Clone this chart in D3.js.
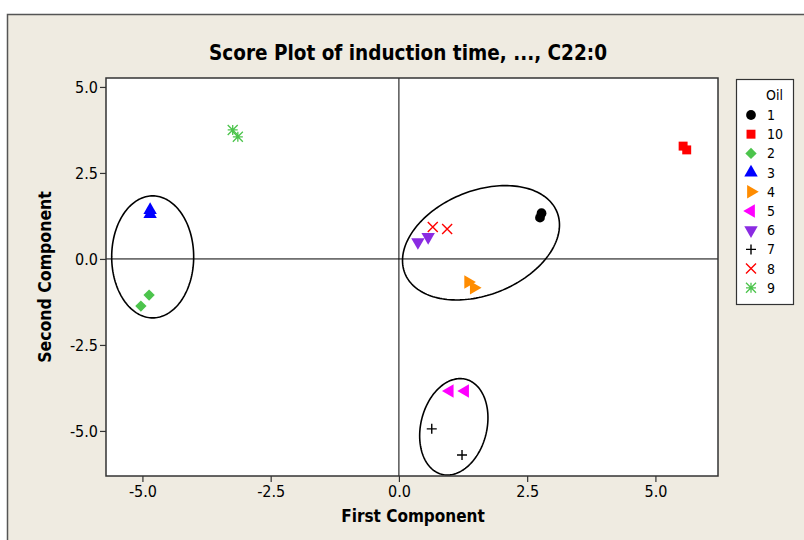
<!DOCTYPE html>
<html>
<head>
<meta charset="utf-8">
<script src="https://cdn.jsdelivr.net/npm/d3@7"></script>
<style>
  body { margin: 0; background: #fff; }
  svg { display: block; font-family: "DejaVu Sans Condensed", "DejaVu Sans", sans-serif; }
</style>
</head>
<body>
<svg id="chart" width="804" height="540"></svg>
<script>
// oil groups in legend order
var oils = ['1', '10', '2', '3', '4', '5', '6', '7', '8', '9']
var colors = ['#000000', '#ff0000', '#4cc44c', '#0000ff', '#ff8c00', '#ff00ff', '#8a2be2', '#000000', '#ff0000', '#4cc44c']
var shapes = ['circle', 'square', 'diamond', 'up', 'right', 'left', 'down', 'plus', 'cross', 'star']

// scores, two samples per oil
var firstComp  = [2.75, 2.78, 5.54, 5.61, -4.87, -5.03, -4.85, -4.85, 1.35, 1.46, 0.99, 1.29, 0.37, 0.57, 0.64, 1.23, 0.66, 0.94, -3.24, -3.14]
var secondComp = [1.20, 1.33, 3.28, 3.17, -1.05, -1.37, 1.42, 1.30, -0.67, -0.84, -3.84, -3.84, 0.49, 0.64, -4.94, -5.70, 0.93, 0.87, 3.75, 3.55]
var oilOf      = ['1', '1', '10', '10', '2', '2', '3', '3', '4', '4', '5', '5', '6', '6', '7', '7', '8', '8', '9', '9']

var xTicks = [-5, -2.5, 0, 2.5, 5]
var yTicks = [5, 2.5, 0, -2.5, -5]

// grouping ellipses: centre in data units
var ellCx = [-4.80, 1.60, 1.07]
var ellCy = [0.06, 0.47, -4.88]

var svg = d3.select('#chart')
var W = 804, H = 540
var margin = {left: 106, right: 86, top: 78, bottom: 64}

// beige frame
svg.append('rect')
    .attr('x', 7.5).attr('y', 14.5)
    .attr('width', W).attr('height', H)
    .attr('fill', '#efebe1')
    .attr('stroke', '#555')
    .attr('stroke-width', 1.5)

var x = d3.scaleLinear().domain([-5.71, 6.22]).range([margin.left, W - margin.right])
var y = d3.scaleLinear().domain([-6.31, 5.26]).range([H - margin.bottom, margin.top])

svg.append('rect')
    .attr('x', margin.left).attr('y', margin.top)
    .attr('width', W - margin.right - margin.left)
    .attr('height', H - margin.bottom - margin.top)
    .attr('fill', '#fff')

// reference lines
svg.append('line')
    .attr('x1', x(0)).attr('x2', x(0))
    .attr('y1', margin.top).attr('y2', H - margin.bottom)
    .attr('stroke', '#000').attr('stroke-width', 1)
svg.append('line')
    .attr('x1', margin.left).attr('x2', W - margin.right)
    .attr('y1', y(0)).attr('y2', y(0))
    .attr('stroke', '#000').attr('stroke-width', 1)

// ellipses: semi-axes a,b in px and tilt in degrees
var ellA = [41, 82, 33], ellB = [61, 52, 49], ellRot = [0, -22, 14]
var ellLine = d3.line().curve(d3.curveLinearClosed)
ellCx.forEach(function(cx, i) {
  var pts = d3.range(0, 2 * Math.PI, Math.PI / 90).map(function(t) {
    var r = ellRot[i] * Math.PI / 180
    var px = ellA[i] * Math.cos(t), py = ellB[i] * Math.sin(t)
    return [x(cx) + px * Math.cos(r) - py * Math.sin(r), y(ellCy[i]) + px * Math.sin(r) + py * Math.cos(r)]
  })
  svg.append('path')
      .attr('d', ellLine(pts))
      .attr('fill', 'none')
      .attr('stroke', '#000')
      .attr('stroke-width', 1.6)
})

function marker(g, shape, color) {
  var s = 5
  if (shape == 'circle') g.append('path').attr('d', d3.symbol(d3.symbolCircle, 75)()).attr('fill', color)
  else if (shape == 'square') g.append('path').attr('d', d3.symbol(d3.symbolSquare, 80)()).attr('fill', color)
  else if (shape == 'diamond') g.append('path').attr('d', d3.symbol(d3.symbolSquare, 64)()).attr('transform', 'rotate(45)').attr('fill', color)
  else if (['up', 'right', 'down', 'left'].indexOf(shape) >= 0) {
    var rot = {up: 0, right: 90, down: 180, left: 270}[shape]
    g.append('path').attr('d', d3.symbol(d3.symbolTriangle, 78)()).attr('transform', 'rotate(' + rot + ')').attr('fill', color)
  }
  else if (shape == 'plus') g.append('path').attr('d', `M${-s},0H${s}M0,${-s}V${s}`).attr('stroke', color).attr('stroke-width', 1.4)
  else if (shape == 'cross') g.append('path').attr('d', `M${-s},${-s}L${s},${s}M${-s},${s}L${s},${-s}`).attr('stroke', color).attr('stroke-width', 1.4)
  else if (shape == 'star') g.append('path').attr('d', `M${-s},${-s}L${s},${s}M${-s},${s}L${s},${-s}M0,${-s}V${s}M${-s},0H${s}`).attr('stroke', color).attr('stroke-width', 1.3)
}

firstComp.forEach(function(v, i) {
  var k = oils.indexOf(oilOf[i])
  var g = svg.append('g').attr('transform', `translate(${x(v)},${y(secondComp[i])})`)
  marker(g, shapes[k], colors[k])
})

// plot border
svg.append('rect')
    .attr('x', margin.left).attr('y', margin.top)
    .attr('width', W - margin.right - margin.left)
    .attr('height', H - margin.bottom - margin.top)
    .attr('fill', 'none')
    .attr('stroke', '#333')
    .attr('stroke-width', 1.5)

// plain hyphen for negatives, like the original
var fmt = function(d) { return d3.format('.1f')(d).replace('\u2212', '-') }
var xAxis = svg.append('g')
    .attr('transform', `translate(0,${H - margin.bottom})`)
    .call(d3.axisBottom(x).tickValues(xTicks).tickFormat(fmt).tickSize(6).tickPadding(4))
var yAxis = svg.append('g')
    .attr('transform', `translate(${margin.left},0)`)
    .call(d3.axisLeft(y).tickValues(yTicks).tickFormat(fmt).tickSize(6).tickPadding(2))
;[xAxis, yAxis].forEach(function(a) {
  a.select('.domain').remove()
  a.selectAll('.tick line').attr('stroke', '#333').attr('stroke-width', 1.2)
  a.selectAll('.tick text')
      .attr('fill', '#000')
      .style('font-size', '16px')
      .style('font-family', '"DejaVu Sans Condensed", "DejaVu Sans", sans-serif')
})

svg.append('text')
    .attr('x', 408).attr('y', 60)
    .attr('text-anchor', 'middle')
    .style('font-size', '20.5px')
    .style('font-weight', 'bold')
    .text('Score Plot of induction time, ..., C22:0')

svg.append('text')
    .attr('x', 413).attr('y', 522)
    .attr('text-anchor', 'middle')
    .style('font-size', '17px')
    .style('font-weight', 'bold')
    .text('First Component')

svg.append('text')
    .attr('transform', 'translate(51,277) rotate(-90)')
    .attr('text-anchor', 'middle')
    .style('font-size', '17.5px')
    .style('font-weight', 'bold')
    .text('Second Component')

// legend
var lg = svg.append('g')
lg.append('rect')
    .attr('x', 736.5).attr('y', 79.5)
    .attr('width', 57).attr('height', 225)
    .attr('fill', '#fff')
    .attr('stroke', '#333')
    .attr('stroke-width', 1.2)
lg.append('text')
    .attr('x', 766).attr('y', 100)
    .style('font-size', '14px')
    .text('Oil')
oils.forEach(function(o, i) {
  var yy = 115 + i * 19.2
  var g = lg.append('g').attr('transform', `translate(751,${yy})`)
  marker(g, shapes[i], colors[i])
  lg.append('text')
      .attr('x', 767).attr('y', yy + 5)
      .style('font-size', '14px')
      .text(o)
})
</script>
</body>
</html>
